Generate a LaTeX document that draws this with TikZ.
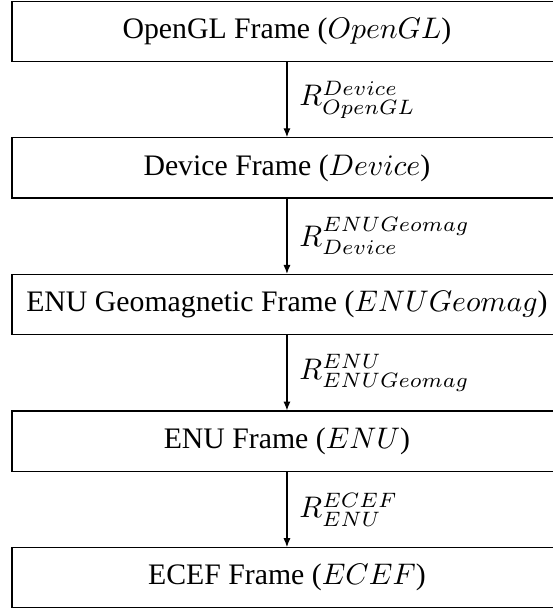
\documentclass[tikz,border=0pt]{standalone}
\usepackage{fontspec}
\setmainfont{Liberation Serif}
\usetikzlibrary{positioning,arrows.meta}

\begin{document}
\begin{tikzpicture}[
  node distance=25.3pt,
  framebox/.style={draw, thin, minimum height=20.2pt, minimum width=184.8pt, align=center, inner sep=2pt},
  arrow/.style={-{Latex[length=3pt,width=2.4pt]}, thin},
  rlabel/.style={right, midway, inner sep=2pt, xshift=2pt}
]
\useasboundingbox (0,0) rectangle (185.5pt,-205.6pt);
\node[framebox, anchor=north] (opengl) at (96.4pt,-0.2pt) {OpenGL Frame ($OpenGL$)};
\node[framebox, below=of opengl] (device) {Device Frame ($Device$)};
\node[framebox, below=of device] (enugeo) {ENU Geomagnetic Frame ($ENUGeomag$)};
\node[framebox, below=of enugeo] (enu) {ENU Frame ($ENU$)};
\node[framebox, below=of enu] (ecef) {ECEF Frame ($ECEF$)};
\draw[arrow] (opengl) -- node[rlabel] {$R^{Device}_{OpenGL}$} (device);
\draw[arrow] (device) -- node[rlabel] {$R^{ENUGeomag}_{Device}$} (enugeo);
\draw[arrow] (enugeo) -- node[rlabel] {$R^{ENU}_{ENUGeomag}$} (enu);
\draw[arrow] (enu) -- node[rlabel] {$R^{ECEF}_{ENU}$} (ecef);
\end{tikzpicture}
\end{document}
